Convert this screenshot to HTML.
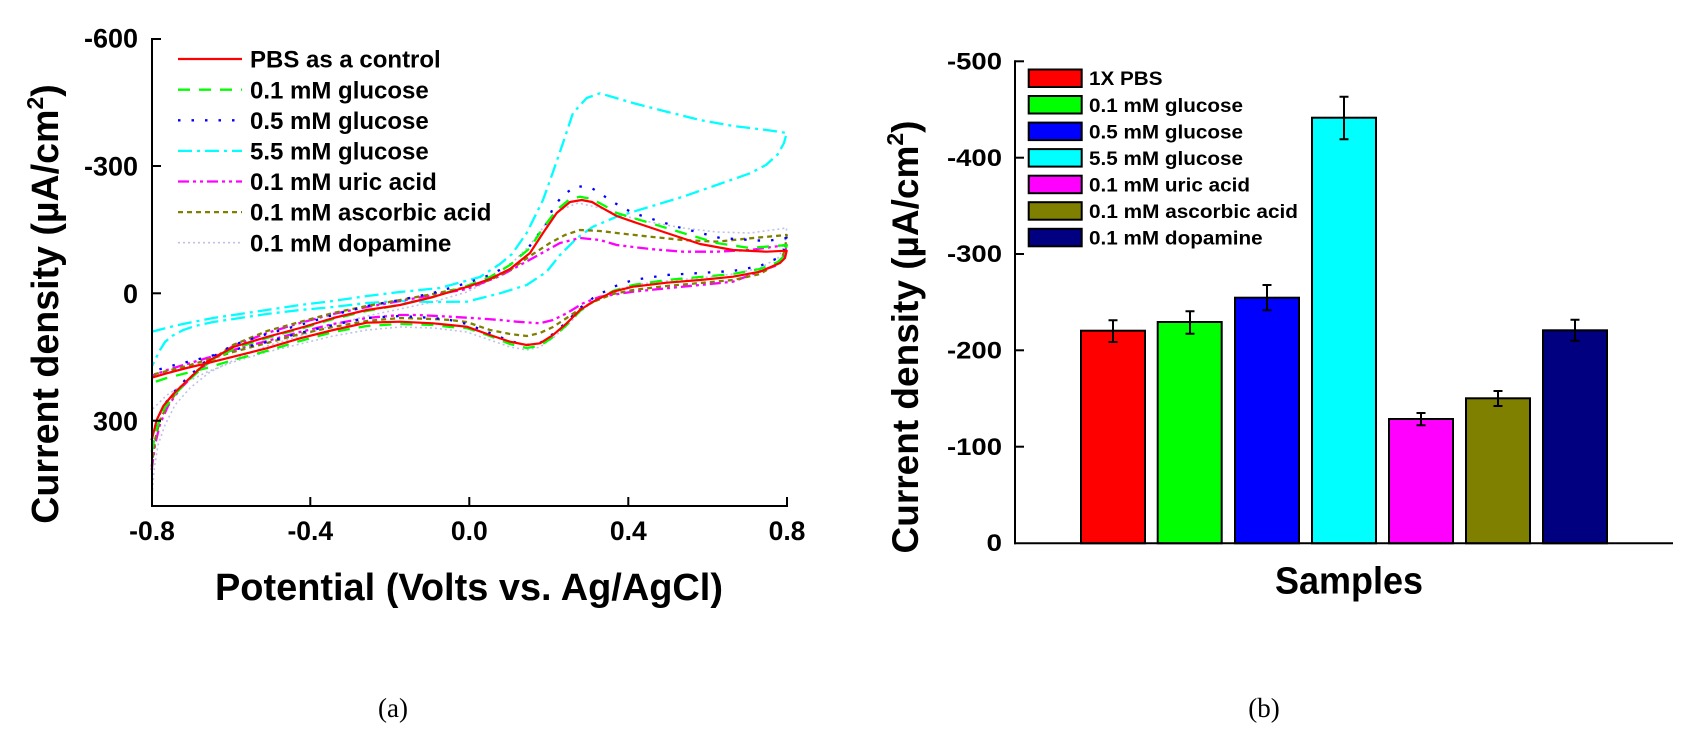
<!DOCTYPE html>
<html>
<head>
<meta charset="utf-8">
<style>
html,body{margin:0;padding:0;background:#fff;}
svg{display:block;}
.t{font-family:"Liberation Sans",Arial,sans-serif;font-weight:bold;fill:#000;}
.cap{font-family:"Liberation Serif","Times New Roman",serif;fill:#000;}
</style>
</head>
<body>
<svg width="1701" height="742" viewBox="0 0 1701 742" xmlns="http://www.w3.org/2000/svg">
<rect width="1701" height="742" fill="#fff"/>

<!-- ================= LEFT CHART (a) ================= -->
<g fill="none" stroke-linejoin="round" stroke-linecap="butt">
  <polyline stroke="#c0c0e8" stroke-width="1.6" stroke-dasharray="2 3" points="151.7,500 154,470 158,445 165,425 175,405 190,388 210,372 240,357 267,346 300,336 333,325 367,316 400,309 433,302 467,292 490,280 510,265 530,245 545,225 560,210 578,203 600,208 620,215 650,222 683,228 716.7,232 750,233 786.7,228 785,245 778,258 760,268 733,274 700,278 666.7,281 633,285 613,291 593,302 580,312 566.7,326 553,338 540,347 526.7,350 510,347 490,340 466.7,332 450,330 433,328 400,327 367,330 333,336 300,344 267,352 233,362 207,372 187,382 167,395 151.7,410"/>
  <polyline stroke="#00ffff" stroke-width="2.3" stroke-dasharray="14 5 3 5" points="151.7,331.7 170,327 183,324 213,318 240,314 266.7,310 300,305 333,301 367,296 400,292 440,288 480,277 500,264 512,254 526.7,233 543,200 553,172 563,143 573,113 586.7,98 600,93.3 616,98 633,103 666.7,111.7 700,120 733,126 766.7,130 786.7,133 784,143 778,154 766,165 750,173.3 716.7,185 683,196.7 650,206.7 616.7,216.7 593,226.7 576.7,238.3 560,255 546.7,271.7 526.7,285 500,293.3 466.7,301.7 433,302 400,301 367,303 333.3,307 300,310 266.7,314 240,318 213.3,322 195,326 183.3,330 172,336 165,342 160,350 156,358 151.7,366.7"/>
  <polyline stroke="#ff00ff" stroke-width="2.3" stroke-dasharray="11 4 3 4 3 4" points="151.7,470 155,445 160,424 168,406 180,389 200,369 233,346 267,333 300,323 333,314 367,307 400,301 433,295 467,289 500,276 533,258 560,243 580,238 600,240 616.7,245 650,249 683,251.7 716.7,251.7 750,250 786.7,245 784,256 775,266 763,270 733,281.7 700,285 666.7,288.3 633,291.7 600,296.7 583,303.3 566.7,313.3 553,320 540,323.3 516.7,321.7 500,320 476.7,318.3 450,316.7 416.7,315 400,315 367,318 333,324 300,332 267,341 233,350 207,358 187,364 167,370 151.7,376"/>
  <polyline stroke="#808000" stroke-width="2.3" stroke-dasharray="5 4" points="151.7,466.7 155,440 160,420 168,404 180,388 200,368 233,345 267,331 300,322 333,313 367,306 400,300 433,294 467,287 490,280 510,270 530,256 550,243 565,235 580,230 600,231 616.7,233 650,236.7 683,240 716.7,241.7 750,238.3 786.7,235 785,250 780,262 760,274 733,280 700,283 666.7,286 633,290 613,294 593,302 580,309 566.7,318 553,327 540,333 526.7,336 510,334 490,330 466.7,322 450,320 433,319 400,318 366.7,321 333,327 300,334 267,343 233,352 207,360 187,366 167,371 151.7,375"/>
  <polyline stroke="#0000ff" stroke-width="2.3" stroke-dasharray="2.5 11" points="151.7,440 157,420 164,405 174,392 187,378 207,360 233,345 267,334 300,325 333,315 367,306 400,300 433,293 467,283 490,275 513,263 526.7,250 536.7,236.7 546.7,223 553,208 563,195 576.7,186 591.7,188 605,196.7 618,205 633,213 676.7,226.7 720,238 766.7,241 786.7,238 784,250 778,258 760,266 733,271 700,273 666.7,275 633,280 613,287 593,298 580,308 566.7,322 553,334 540,343 526.7,345 510,341 490,333 466.7,324 450,320 433,318 400,316 366.7,318 333,325 300,333 267,342 233,350 207,357 187,362 167,367 151.7,371.7"/>
  <polyline stroke="#00ff00" stroke-width="2.3" stroke-dasharray="12 9" points="151.7,452 156.7,428 163.3,410 173.3,396 186.7,382 206.7,364 233.3,349 266.7,338 300,329 333.3,319 366.7,311 400,305 433,297 466.7,286 490,277 510,265 530,248 543,228 556.7,210 570,199 580,196.7 592,199 605,206 616.7,213 650,223 683,233 716.7,243 750,248 786.7,245 784,256 778,262 760,269 733,274 700,277 666.7,280 633,285 613,291 593,302 580,311 566.7,325 553,337 540,345.7 526.7,348 510,344 490,336 466.7,328 450,327 433,325 400,324 366.7,326 333.3,332 300,341 266.7,351 233.3,360 206.7,368 186.7,373 166.7,378 151.7,383"/>
  <polyline stroke="#ff0000" stroke-width="2.2" points="151.7,440 156.7,420 163.3,406 173.3,394 186.7,381 206.7,362 233.3,347 266.7,337 300,328 333.3,318 366.7,310 400,305 433,297 466.7,287 490,279 510,269 530,253 543,233 556.7,213 570,202 581.7,200 592,202 600,206.7 616.7,216 633,221.7 666.7,233 700,244 733,250 766.7,251.7 786.7,250.7 785,258 780,263 760,271.7 733,276.7 700,280 666.7,282.7 633,286.7 613,291.7 593,301.7 580,310 566.7,323.3 553,335 540,343.3 526.7,345 510,341.7 490,335 466.7,326.7 450,325 433,323.3 400,321.7 366.7,322.7 333.3,330 300,338.3 266.7,348.3 233.3,356.7 206.7,363.3 186.7,368 166.7,373.3 151.7,377.7"/>
</g>

<g stroke="#000" stroke-width="2" fill="none">
  <line x1="152" y1="38" x2="152" y2="507"/>
  <line x1="151" y1="506" x2="788" y2="506"/>
  <line x1="152" y1="39" x2="161" y2="39"/>
  <line x1="152" y1="166" x2="161" y2="166"/>
  <line x1="152" y1="293.3" x2="161" y2="293.3"/>
  <line x1="152" y1="420.7" x2="161" y2="420.7"/>
  <line x1="310.3" y1="506" x2="310.3" y2="497"/>
  <line x1="469.3" y1="506" x2="469.3" y2="497"/>
  <line x1="628.3" y1="506" x2="628.3" y2="497"/>
  <line x1="787" y1="506" x2="787" y2="497"/>
</g>
<g class="t" font-size="27" text-anchor="end">
  <text x="138" y="47.7">-600</text>
  <text x="138" y="175.5">-300</text>
  <text x="138" y="303">0</text>
  <text x="138" y="430.4">300</text>
</g>
<g class="t" font-size="26.5" text-anchor="middle">
  <text x="152" y="540">-0.8</text>
  <text x="310.3" y="540">-0.4</text>
  <text x="469.3" y="540">0.0</text>
  <text x="628.3" y="540">0.4</text>
  <text x="787" y="540">0.8</text>
</g>
<text class="t" font-size="37.6" x="215" y="600" textLength="508" lengthAdjust="spacingAndGlyphs">Potential (Volts vs. Ag/AgCl)</text>
<text class="t" font-size="37.6" transform="translate(58,304) rotate(-90)" text-anchor="middle">Current density (µA/cm<tspan dy="-15" font-size="23">2</tspan><tspan dy="15">)</tspan></text>

<g stroke-width="2.3" fill="none">
  <line x1="178" y1="59" x2="242" y2="59" stroke="#ff0000"/>
  <line x1="178" y1="89.7" x2="242" y2="89.7" stroke="#00ff00" stroke-dasharray="12 9"/>
  <line x1="178" y1="120.3" x2="242" y2="120.3" stroke="#0000ff" stroke-dasharray="2.5 11"/>
  <line x1="178" y1="150.9" x2="242" y2="150.9" stroke="#00ffff" stroke-dasharray="14 5 3 5"/>
  <line x1="178" y1="181.5" x2="242" y2="181.5" stroke="#ff00ff" stroke-dasharray="11 4 3 4 3 4"/>
  <line x1="178" y1="212.1" x2="242" y2="212.1" stroke="#808000" stroke-dasharray="5 4"/>
  <line x1="178" y1="242.7" x2="242" y2="242.7" stroke="#c0c0e8" stroke-width="1.6" stroke-dasharray="2 3"/>
</g>
<g class="t" font-size="24">
  <text x="250" y="67.7">PBS as a control</text>
  <text x="250" y="98.3">0.1 mM glucose</text>
  <text x="250" y="128.9">0.5 mM glucose</text>
  <text x="250" y="159.5">5.5 mM glucose</text>
  <text x="250" y="190.1">0.1 mM uric acid</text>
  <text x="250" y="220.7">0.1 mM ascorbic acid</text>
  <text x="250" y="251.3">0.1 mM dopamine</text>
</g>

<text class="cap" font-size="27" x="393" y="717" text-anchor="middle">(a)</text>

<!-- ================= RIGHT CHART (b) ================= -->
<g stroke="#000" stroke-width="2">
  <rect x="1081" y="330.7" width="64" height="212.6" fill="#ff0000"/>
  <rect x="1157.7" y="322" width="64" height="221.3" fill="#00ff00"/>
  <rect x="1235" y="297.7" width="64" height="245.6" fill="#0000ff"/>
  <rect x="1312" y="117.7" width="64" height="425.6" fill="#00ffff"/>
  <rect x="1389" y="419" width="64" height="124.3" fill="#ff00ff"/>
  <rect x="1466" y="398.3" width="64" height="145" fill="#808000"/>
  <rect x="1543" y="330.3" width="64" height="213" fill="#000080"/>
</g>
<g stroke="#000" stroke-width="2" fill="none">
  <path d="M1113,320.3V342M1108.5,320.3H1117.5M1108.5,342H1117.5"/>
  <path d="M1190,311.3V333.7M1185.5,311.3H1194.5M1185.5,333.7H1194.5"/>
  <path d="M1267,285V310.3M1262.5,285H1271.5M1262.5,310.3H1271.5"/>
  <path d="M1344,96.7V139.3M1339.5,96.7H1348.5M1339.5,139.3H1348.5"/>
  <path d="M1421,413V425.3M1416.5,413H1425.5M1416.5,425.3H1425.5"/>
  <path d="M1498,391V406M1493.5,391H1502.5M1493.5,406H1502.5"/>
  <path d="M1575,319.7V340.7M1570.5,319.7H1579.5M1570.5,340.7H1579.5"/>
</g>
<g stroke="#000" stroke-width="2" fill="none">
  <line x1="1015" y1="60.3" x2="1015" y2="544.3"/>
  <line x1="1014" y1="543.3" x2="1673" y2="543.3"/>
  <line x1="1015" y1="61.3" x2="1024" y2="61.3"/>
  <line x1="1015" y1="157.7" x2="1024" y2="157.7"/>
  <line x1="1015" y1="254" x2="1024" y2="254"/>
  <line x1="1015" y1="350.3" x2="1024" y2="350.3"/>
  <line x1="1015" y1="446.7" x2="1024" y2="446.7"/>
</g>
<g class="t" font-size="24" text-anchor="end">
  <text x="1002" y="69.5" textLength="55" lengthAdjust="spacingAndGlyphs">-500</text>
  <text x="1002" y="165.8" textLength="55" lengthAdjust="spacingAndGlyphs">-400</text>
  <text x="1002" y="262.2" textLength="55" lengthAdjust="spacingAndGlyphs">-300</text>
  <text x="1002" y="358.5" textLength="55" lengthAdjust="spacingAndGlyphs">-200</text>
  <text x="1002" y="454.8" textLength="55" lengthAdjust="spacingAndGlyphs">-100</text>
  <text x="1002" y="551" textLength="15.5" lengthAdjust="spacingAndGlyphs">0</text>
</g>
<text class="t" font-size="37" transform="translate(918,337) rotate(-90)" text-anchor="middle">Current density (µA/cm<tspan dy="-15" font-size="23">2</tspan><tspan dy="15">)</tspan></text>
<text class="t" font-size="38" x="1275" y="593.3" textLength="148" lengthAdjust="spacingAndGlyphs">Samples</text>

<g stroke="#000" stroke-width="2">
  <rect x="1028.7" y="69.5" width="53" height="17.5" fill="#ff0000"/>
  <rect x="1028.7" y="96" width="53" height="17.5" fill="#00ff00"/>
  <rect x="1028.7" y="122.6" width="53" height="17.5" fill="#0000ff"/>
  <rect x="1028.7" y="149.1" width="53" height="17.5" fill="#00ffff"/>
  <rect x="1028.7" y="175.7" width="53" height="17.5" fill="#ff00ff"/>
  <rect x="1028.7" y="202.2" width="53" height="17.5" fill="#808000"/>
  <rect x="1028.7" y="228.8" width="53" height="17.5" fill="#000080"/>
</g>
<g class="t" font-size="19">
  <text x="1089" y="85" textLength="73.5" lengthAdjust="spacingAndGlyphs">1X PBS</text>
  <text x="1089" y="111.8" textLength="154" lengthAdjust="spacingAndGlyphs">0.1 mM glucose</text>
  <text x="1089" y="138.4" textLength="154" lengthAdjust="spacingAndGlyphs">0.5 mM glucose</text>
  <text x="1089" y="164.8" textLength="154" lengthAdjust="spacingAndGlyphs">5.5 mM glucose</text>
  <text x="1089" y="191.3" textLength="161" lengthAdjust="spacingAndGlyphs">0.1 mM uric acid</text>
  <text x="1089" y="217.9" textLength="209" lengthAdjust="spacingAndGlyphs">0.1 mM ascorbic acid</text>
  <text x="1089" y="244.4" textLength="173.7" lengthAdjust="spacingAndGlyphs">0.1 mM dopamine</text>
</g>

<text class="cap" font-size="27" x="1264" y="717" text-anchor="middle">(b)</text>
</svg>
</body>
</html>
